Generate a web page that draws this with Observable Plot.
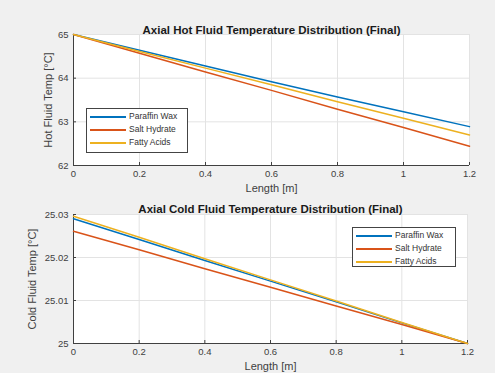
<!DOCTYPE html>
<html><head><meta charset="utf-8">
<script src="https://cdn.jsdelivr.net/npm/d3@7"></script>
<script src="https://cdn.jsdelivr.net/npm/@observablehq/plot@0.6"></script>
<style>
body{margin:0;background:#f0f0f0;}
#fig{position:relative;width:495px;height:373px;background:#f0f0f0;overflow:hidden;font-family:"Liberation Sans",Arial,sans-serif;}
#fig svg{position:absolute;left:0;background:transparent;overflow:visible;}
.legend{position:absolute;background:#fff;border:1px solid #444;font-size:8.5px;color:#333;padding:1px 3px;line-height:13px;box-sizing:border-box;}
.legend div{display:flex;align-items:center;white-space:nowrap;}
.legend span.sw{display:inline-block;width:36px;height:2px;margin-right:3px;}
</style></head>
<body><div id="fig"></div>
<script>
const lengths = [0, 0.2, 0.4, 0.6, 0.8, 1.0, 1.2];
const seriesNames = ["Paraffin Wax", "Salt Hydrate", "Fatty Acids"];
const colors = ["#0072BD", "#D95319", "#EDB120"];
const hotParaffin = [65, 64.64, 64.28, 63.92, 63.57, 63.23, 62.89];
const hotSalt     = [65, 64.57, 64.14, 63.72, 63.29, 62.87, 62.44];
const hotFatty    = [65, 64.61, 64.23, 63.85, 63.46, 63.08, 62.70];
const coldParaffin = [25.0290, 25.0242, 25.0193, 25.0145, 25.0097, 25.0048, 25.0000];
const coldSalt     = [25.0261, 25.0218, 25.0174, 25.0131, 25.0087, 25.0044, 25.0000];
const coldFatty    = [25.0296, 25.0247, 25.0197, 25.0148, 25.0099, 25.0049, 25.0000];
const xTicks = [0, 0.2, 0.4, 0.6, 0.8, 1, 1.2];
const hotTicks = [62, 63, 64, 65];
const coldTicks = [25, 25.01, 25.02, 25.03];
const hotTitle = "Axial Hot Fluid Temperature Distribution (Final)";
const coldTitle = "Axial Cold Fluid Temperature Distribution (Final)";
const xLabel = "Length [m]";
const hotYLabel = "Hot Fluid Temp [°C]";
const coldYLabel = "Cold Fluid Temp [°C]";

function toRows(arrs){
  const rows=[];
  arrs.forEach((a,i)=>a.forEach((v,j)=>rows.push({x:lengths[j],y:v,s:seriesNames[i]})));
  return rows;
}

function panel({rows, yDomain, yTicks, yFmt, title, ylabel, top, height, mt, mb, mr, titleDy, yLabelDx}){
  const chart = Plot.plot({
    width: 495, height, marginLeft: 73, marginRight: mr, marginTop: mt, marginBottom: mb,
    style:{fontFamily:"Liberation Sans, Arial, sans-serif", fontSize:"9.5px", color:"#404040", background:"transparent", overflow:"visible"},
    x:{domain:[0,1.2]},
    y:{domain:yDomain},
    color:{domain:seriesNames, range:colors},
    marks:[
      Plot.frame({fill:"white", stroke:"none"}),
      Plot.gridX(xTicks,{stroke:"#e3e3e3", strokeOpacity:1}),
      Plot.gridY(yTicks,{stroke:"#e3e3e3", strokeOpacity:1}),
      Plot.axisX(xTicks,{tickSize:-3, tickPadding:8, tickFormat:d=>String(d), label:null, stroke:"#404040"}),
      Plot.axisY(yTicks,{tickSize:-3, tickPadding:8, tickFormat:yFmt, label:null, stroke:"#404040"}),
      Plot.ruleX([0],{stroke:"#404040"}),
      Plot.ruleY([yDomain[0]],{stroke:"#404040"}),
      Plot.line(rows,{x:"x", y:"y", z:"s", stroke:"s", strokeWidth:1.5}),
      Plot.text([title],{frameAnchor:"top", dy:titleDy, fontWeight:"bold", fontSize:11.5, fill:"#1a1a1a"}),
      Plot.text([xLabel],{frameAnchor:"bottom", dy:26, fontSize:11, fill:"#404040"}),
      Plot.text([ylabel],{frameAnchor:"left", textAnchor:"middle", dx:yLabelDx, rotate:-90, fontSize:11, fill:"#404040"})
    ]
  });
  chart.style.top = top+"px";
  return chart;
}

const fig = document.getElementById("fig");
fig.appendChild(panel({rows:toRows([hotParaffin,hotSalt,hotFatty]), yDomain:[62,65], yTicks:hotTicks, yFmt:d=>String(d), title:hotTitle, ylabel:hotYLabel, top:0, height:200, mt:34, mb:35, mr:26, titleDy:-9, yLabelDx:-25}));
fig.appendChild(panel({rows:toRows([coldParaffin,coldSalt,coldFatty]), yDomain:[25,25.03], yTicks:coldTicks, yFmt:d=>String(+d.toFixed(2)), title:coldTitle, ylabel:coldYLabel, top:190, height:183, mt:24, mb:30, mr:28, titleDy:-10, yLabelDx:-41}));

function legend(left, top, w, h){
  const d = document.createElement("div");
  d.className="legend";
  d.style.left=left+"px"; d.style.top=top+"px";
  d.style.width=w+"px"; d.style.height=h+"px";
  seriesNames.forEach((n,i)=>{
    const r=document.createElement("div");
    r.innerHTML=`<span class="sw" style="background:${colors[i]}"></span>${n}`;
    d.appendChild(r);
  });
  fig.appendChild(d);
}
legend(86,108,102,45);
legend(352,227,104,40);
</script></body></html>
